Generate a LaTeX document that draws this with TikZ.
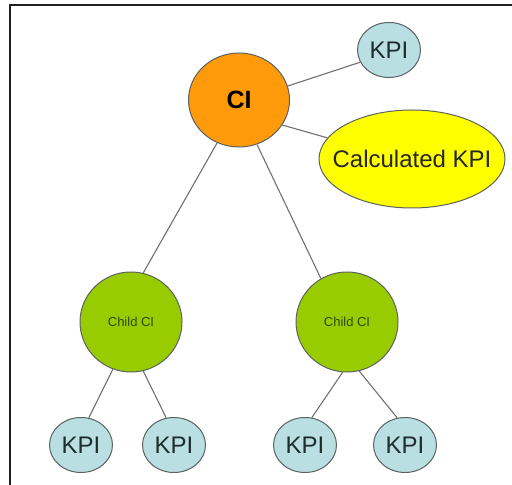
\documentclass[tikz,border=0pt]{standalone}
\usepackage{fontspec}
\setmainfont{Liberation Sans}
\usetikzlibrary{positioning,shapes.geometric}
\definecolor{cCI}{HTML}{FF9A0A}
\definecolor{cChild}{HTML}{99CC00}
\definecolor{cChildText}{HTML}{2E4A00}
\definecolor{cKPI}{HTML}{B9DFE3}
\definecolor{cKPIText}{HTML}{1E2C2E}
\definecolor{cCalc}{HTML}{FFFF00}
\definecolor{cBorder}{HTML}{5A6262}
\definecolor{cLink}{HTML}{707070}
\definecolor{cFrame}{HTML}{202020}
\tikzset{
  bubble/.style={ellipse, draw=cBorder, line width=0.5pt, inner sep=0pt},
  kpiNode/.style={bubble, fill=cKPI, text=cKPIText, font=\fontsize{12}{14}\selectfont,
                  minimum width=31.5pt, minimum height=27.5pt},
  ciNode/.style={bubble, fill=cCI, text=black, font=\fontsize{12.5}{14}\selectfont\bfseries,
                 minimum width=50.5pt, minimum height=47pt},
  childNode/.style={bubble, fill=cChild, text=cChildText, font=\fontsize{6.5}{8}\selectfont,
                    minimum width=51pt, minimum height=50pt},
  calcNode/.style={bubble, fill=cCalc, text=black!85, font=\fontsize{12}{14}\selectfont,
                   inner xsep=-8pt, minimum width=93pt, minimum height=49pt},
  link/.style={draw=cLink, line width=0.55pt},
}
\begin{document}
\begin{tikzpicture}[x=0.5pt, y=-0.5pt]
\useasboundingbox (0,0) rectangle (512,485);

% ========== FRAME ==========
\draw[cFrame, line width=1pt] (10,485) -- (10,5.5) -- (512,5.5);

% ========== TOP LEVEL ==========
\node[ciNode] (ci) at (239,100) {CI};
\node[kpiNode] (kpiTop) at (389,50) {KPI};
\node[calcNode] (calc) at (412,159) {Calculated KPI};

% ========== CHILDREN ==========
\node[childNode] (childL) at (131,322) {Child CI};
\node[childNode] (childR) at (347,322) {Child CI};

% ========== LEAF KPIs ==========
\node[kpiNode] (kpiA) at (81,445) {KPI};
\node[kpiNode] (kpiB) at (174,445) {KPI};
\node[kpiNode] (kpiC) at (305,445) {KPI};
\node[kpiNode] (kpiD) at (405,445) {KPI};

% links
\draw[link] (ci.16) -- (kpiTop.203);
\draw[link] (ci.330) -- (calc.166);
\draw[link] (ci.243) -- (childL.76);
\draw[link] (ci.292) -- (childR.121);
\draw[link] (childL.249) -- (kpiA.74);
\draw[link] (childL.284) -- (kpiB.106);
\draw[link] (childR.265) -- (kpiC.76);
\draw[link] (childR.284) -- (kpiD.106);

\end{tikzpicture}
\end{document}
